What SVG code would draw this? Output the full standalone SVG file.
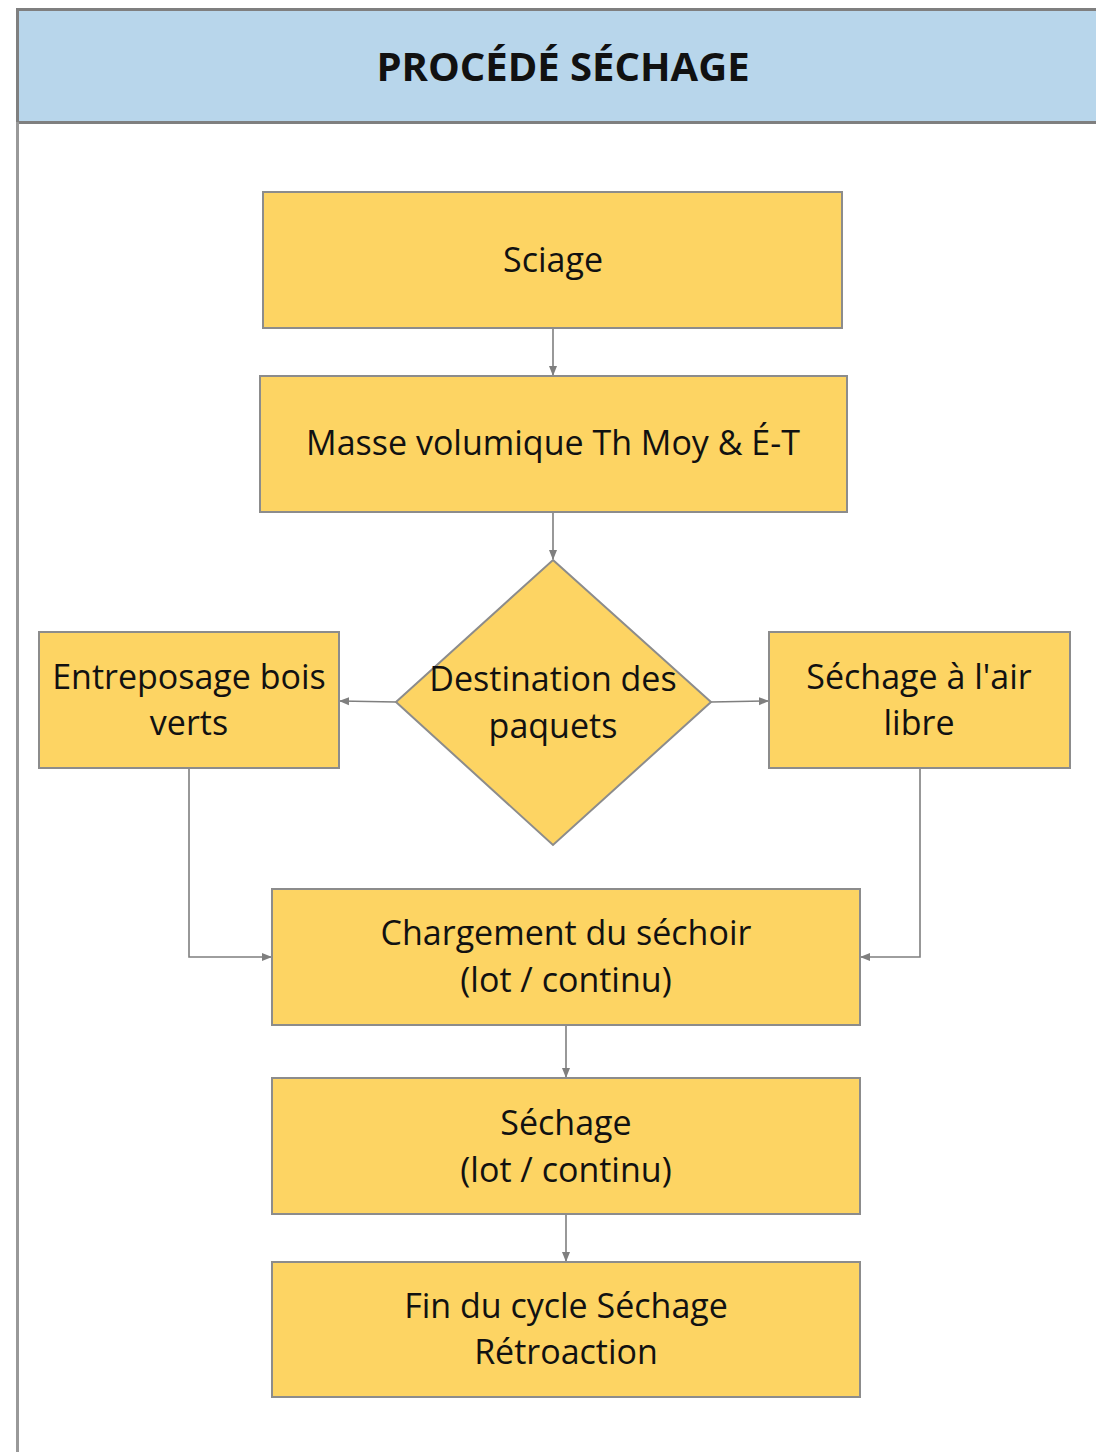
<svg xmlns="http://www.w3.org/2000/svg" width="1096" height="1452" viewBox="0 0 1096 1452">
<defs>
<marker id="ah" markerWidth="10" markerHeight="10" refX="9" refY="5" orient="auto" markerUnits="userSpaceOnUse">
<path d="M0,1 L10,5 L0,9 Z" fill="#7f7f7f"/>
</marker>
</defs>
<style>
.box{fill:#fdd463;stroke:#8c8c8c;stroke-width:2}
.t{font-family:"Open Sans","Liberation Sans",sans-serif;font-size:34px;fill:#111;text-anchor:middle;dominant-baseline:central}
.c{fill:none;stroke:#7f7f7f;stroke-width:1.6;marker-end:url(#ah)}
</style>
<rect x="0" y="0" width="1096" height="1452" fill="#fff"/>
<g id="frame">
<rect x="17.5" y="9.5" width="1090" height="113" fill="#b8d6eb" stroke="#7f7f7f" stroke-width="3"/>
<line x1="17.5" y1="122" x2="17.5" y2="1452" stroke="#999" stroke-width="3"/>
<text x="563" y="65" class="t" style="font-weight:bold;font-size:40px">PROCÉDÉ SÉCHAGE</text>
</g>
<g id="connectors">
<path class="c" d="M553,328 V375"/>
<path class="c" d="M553,512 V559"/>
<path class="c" d="M396,702 L340,701"/>
<path class="c" d="M711,702 L768,701"/>
<path class="c" d="M189,768 V957 H271"/>
<path class="c" d="M920,768 V957 H861"/>
<path class="c" d="M566,1025 V1077"/>
<path class="c" d="M566,1214 V1261"/>
</g>
<g id="sciage">
<rect class="box" x="263" y="192" width="579" height="136"/>
<text class="t" x="553" y="259">Sciage</text>
</g>
<g id="masse">
<rect class="box" x="260" y="376" width="587" height="136"/>
<text class="t" x="553" y="442">Masse volumique Th Moy &amp; É-T</text>
</g>
<g id="destination">
<polygon class="box" points="553,560 711,702 553,845 396,702"/>
<text class="t" x="553" y="678">Destination des</text>
<text class="t" x="553" y="725">paquets</text>
</g>
<g id="entreposage">
<rect class="box" x="39" y="632" width="300" height="136"/>
<text class="t" x="189" y="676">Entreposage bois</text>
<text class="t" x="189" y="722">verts</text>
</g>
<g id="air-libre">
<rect class="box" x="769" y="632" width="301" height="136"/>
<text class="t" x="919" y="676">Séchage à l'air</text>
<text class="t" x="919" y="722">libre</text>
</g>
<g id="chargement">
<rect class="box" x="272" y="889" width="588" height="136"/>
<text class="t" x="566" y="932">Chargement du séchoir</text>
<text class="t" x="566" y="979">(lot / continu)</text>
</g>
<g id="sechage">
<rect class="box" x="272" y="1078" width="588" height="136"/>
<text class="t" x="566" y="1122">Séchage</text>
<text class="t" x="566" y="1169">(lot / continu)</text>
</g>
<g id="fin">
<rect class="box" x="272" y="1262" width="588" height="135"/>
<text class="t" x="566" y="1305">Fin du cycle Séchage</text>
<text class="t" x="566" y="1351">Rétroaction</text>
</g>
</svg>
